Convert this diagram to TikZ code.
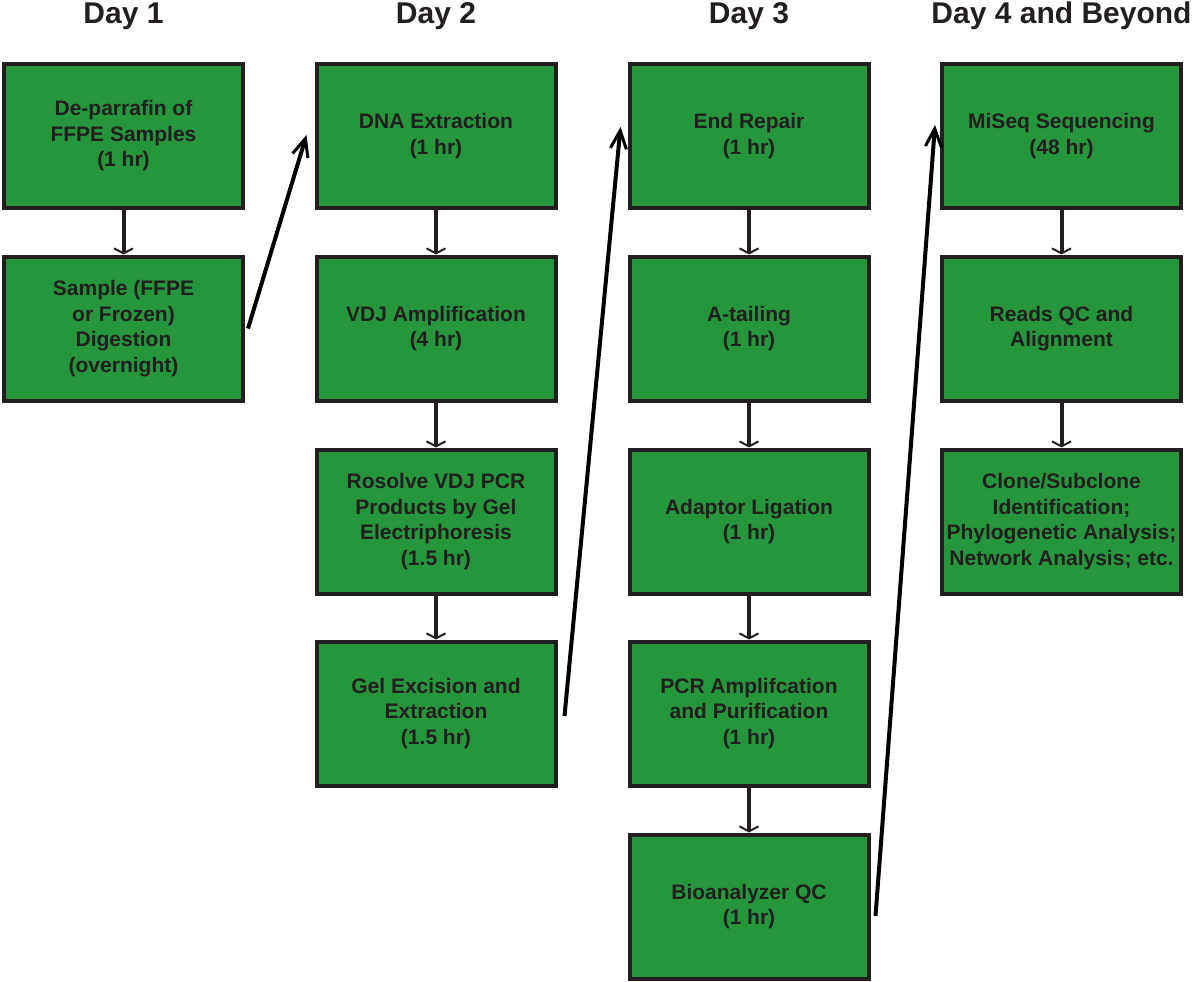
\documentclass[tikz,border=0pt]{standalone}
\usepackage{fontspec}
\setmainfont{Liberation Sans}
\usetikzlibrary{arrows.meta}

\definecolor{boxgreen}{RGB}{38,150,60}
\definecolor{boxline}{RGB}{35,31,32}

\tikzset{
  stepbox/.style={draw=boxline, line width=4pt, fill=boxgreen, text=boxline,
    minimum width=239pt, minimum height=144pt, inner sep=0pt, align=center,
    font=\bfseries\fontsize{21pt}{25.5pt}\selectfont},
  dayhead/.style={text=boxline, anchor=base, inner sep=0pt,
    font=\bfseries\fontsize{30pt}{34pt}\selectfont},
  flow/.style={draw=boxline, line width=4pt, -{Straight Barb[length=5pt,width=19pt,line width=2pt]}},
  jump/.style={draw=black, line width=4pt, -{Straight Barb[length=18pt,width=16pt,line width=3pt]}}
}

\begin{document}
\begin{tikzpicture}[x=1pt, y=-1pt]

\useasboundingbox (0,0) rectangle (1200,982);

\node[dayhead] (h1) at (123.5, 24) {Day 1};
\node[dayhead] (h2) at (436, 24) {Day 2};
\node[dayhead] (h3) at (749, 24) {Day 3};
\node[dayhead] (h4) at (1061.5, 24) {Day 4 and Beyond};

\node[stepbox] (d1a) at (123.5, 136) {De-parrafin of\\FFPE Samples\\(1 hr)};
\node[stepbox] (d1b) at (123.5, 328.5) {Sample (FFPE\\or Frozen)\\Digestion\\(overnight)};

\node[stepbox] (d2a) at (436, 136) {DNA Extraction\\(1 hr)};
\node[stepbox] (d2b) at (436, 328.5) {VDJ Amplification\\(4 hr)};
\node[stepbox] (d2c) at (436, 521.5) {Rosolve VDJ PCR\\Products by Gel\\Electriphoresis\\(1.5 hr)};
\node[stepbox] (d2d) at (436, 713.5) {Gel Excision and\\Extraction\\(1.5 hr)};

\node[stepbox] (d3a) at (749, 136) {End Repair\\(1 hr)};
\node[stepbox] (d3b) at (749, 328.5) {A-tailing\\(1 hr)};
\node[stepbox] (d3c) at (749, 521.5) {Adaptor Ligation\\(1 hr)};
\node[stepbox] (d3d) at (749, 713.5) {PCR Amplifcation\\and Purification\\(1 hr)};
\node[stepbox] (d3e) at (749, 906.5) {Bioanalyzer QC\\(1 hr)};

\node[stepbox] (d4a) at (1061.5, 136) {MiSeq Sequencing\\(48 hr)};
\node[stepbox] (d4b) at (1061.5, 328.5) {Reads QC and\\Alignment};
\node[stepbox] (d4c) at (1061.5, 521.5) {Clone/Subclone\\Identification;\\Phylogenetic Analysis;\\Network Analysis; etc.};

\draw[flow] (d1a) -- (d1b);
\draw[flow] (d2a) -- (d2b);
\draw[flow] (d2b) -- (d2c);
\draw[flow] (d2c) -- (d2d);
\draw[flow] (d3a) -- (d3b);
\draw[flow] (d3b) -- (d3c);
\draw[flow] (d3c) -- (d3d);
\draw[flow] (d3d) -- (d3e);
\draw[flow] (d4a) -- (d4b);
\draw[flow] (d4b) -- (d4c);

\draw[jump] ([xshift=3pt]d1b.east) -- ([xshift=-8pt, yshift=1pt]d2a.west);
\draw[jump] ([xshift=7pt, yshift=-2.5pt]d2d.east) -- ([xshift=-7pt, yshift=9pt]d3a.west);
\draw[jump] ([xshift=5pt, yshift=-9.5pt]d3e.east) -- ([xshift=-5pt, yshift=11pt]d4a.west);

\end{tikzpicture}
\end{document}
